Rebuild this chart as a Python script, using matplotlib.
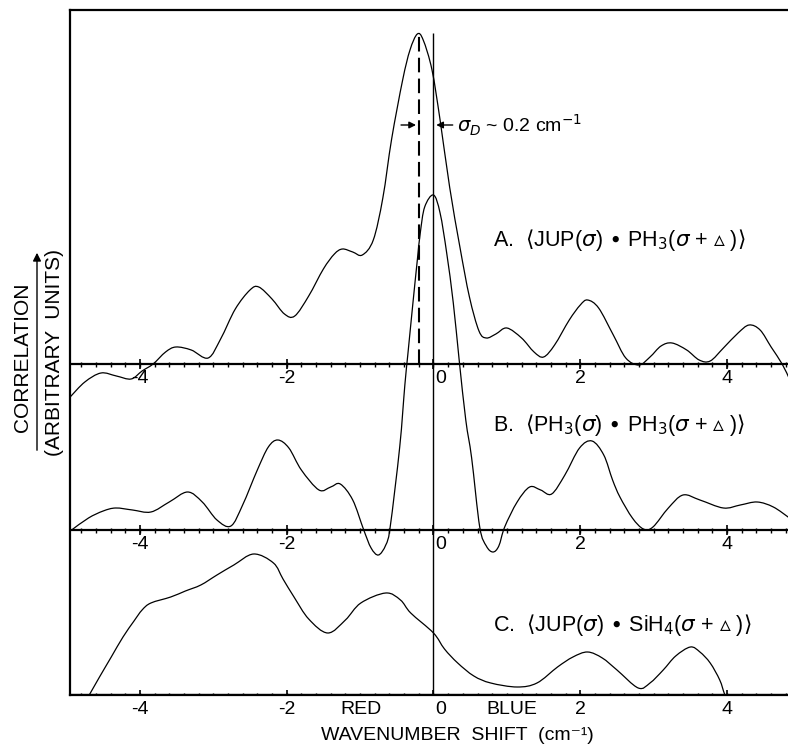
import numpy as np
import matplotlib
matplotlib.use("Agg")
import matplotlib.pyplot as plt
from matplotlib.path import Path
from matplotlib.patches import PathPatch, FancyArrowPatch

plt.rcParams['font.family'] = ['Liberation Sans', 'DejaVu Sans']
plt.rcParams['mathtext.fontset'] = 'dejavusans'

# curve A: JUP x PH3 (shift, height above its baseline)
a_x = [-4.95, -4.75, -4.53, -4.32, -4.12, -3.97, -3.82, -3.65, -3.51, -3.30, -3.07,
       -2.90, -2.70, -2.50, -2.38, -2.20, -2.03, -1.89, -1.70, -1.50, -1.35, -1.24,
       -1.10, -0.97, -0.82, -0.69, -0.57, -0.42, -0.32, -0.22, -0.14, -0.02,
       0.09, 0.22, 0.36, 0.49, 0.62, 0.72, 0.85, 1.00, 1.20, 1.37, 1.50, 1.65, 1.85,
       2.00, 2.10, 2.25, 2.45, 2.62, 2.80, 2.95, 3.10, 3.25, 3.45, 3.62, 3.77, 3.95,
       4.15, 4.30, 4.45, 4.60, 4.75, 4.85]
a_y = [-3.3, -1.8, -0.9, -1.2, -1.5, -0.7, 0.0, 1.2, 1.7, 1.4, 0.6,
       2.5, 5.5, 7.4, 7.7, 6.5, 5.0, 4.8, 6.8, 9.5, 11.0, 11.5,
       11.2, 10.9, 12.4, 16.6, 22.5, 28.4, 31.4, 33.0, 32.4, 29.4,
       24.4, 17.7, 11.7, 6.7, 3.3, 2.6, 3.0, 3.6, 2.6, 1.2, 0.7, 1.9, 4.4,
       5.9, 6.4, 5.6, 2.9, 0.6, -0.1, 0.7, 1.8, 2.1, 1.4, 0.4, 0.3, 1.6,
       3.1, 3.9, 3.4, 1.7, 0.0, -1.5]

# curve B: PH3 x PH3
b_x = [-4.93, -4.70, -4.50, -4.33, -4.10, -3.85, -3.60, -3.35, -3.15, -2.95, -2.76,
       -2.60, -2.40, -2.25, -2.12, -1.97, -1.80, -1.56, -1.40, -1.27, -1.10, -0.95,
       -0.85, -0.75, -0.65, -0.59, -0.46, -0.39, -0.35, -0.28, -0.22, -0.18, -0.12,
       0.0, 0.09, 0.18, 0.27, 0.35, 0.44, 0.52, 0.63, 0.72, 0.81, 0.89, 0.97, 1.14,
       1.31, 1.46, 1.61, 1.79, 1.99, 2.16, 2.32, 2.44, 2.54, 2.71, 2.86, 2.99, 3.20,
       3.40, 3.63, 3.95, 4.18, 4.41, 4.63, 4.85]
b_y = [0.0, 1.2, 1.9, 2.2, 2.0, 1.8, 2.8, 3.8, 2.8, 1.0, 0.4,
       2.5, 6.0, 8.3, 9.0, 8.2, 6.0, 4.0, 4.3, 4.6, 3.0, 0.0,
       -1.8, -2.5, -1.5, 0.3, 8.3, 14.5, 17.5, 22.7, 27.0, 29.7, 32.3,
       33.5, 31.7, 27.7, 22.7, 17.0, 11.0, 7.2, 0.3, -1.6, -2.2, -1.6, 0.3, 2.8,
       4.3, 4.0, 3.6, 5.5, 8.2, 8.9, 7.5, 5.0, 3.3, 1.2, 0.1, 0.3, 2.2,
       3.5, 3.0, 2.2, 2.5, 2.8, 2.3, 1.2]

# curve C: JUP x SiH4
c_x = [-4.85, -4.69, -4.55, -4.39, -4.23, -4.08, -3.97, -3.85, -3.58, -3.38, -3.17, -2.95,
       -2.72, -2.45, -2.18, -2.05, -1.90, -1.70, -1.44, -1.20, -0.99, -0.65, -0.45,
       -0.31, 0.0, 0.15, 0.33, 0.55, 0.78, 1.14, 1.41, 1.69, 1.90, 2.10, 2.30, 2.50,
       2.79, 2.95, 3.13, 3.30, 3.50, 3.63, 3.77, 3.90, 3.97, 4.08]
c_y = [-2.0, 0.0, 1.8, 3.8, 5.8, 7.4, 8.5, 9.2, 9.8, 10.4, 11.0, 12.0,
       13.0, 14.1, 13.2, 11.6, 9.8, 7.6, 6.2, 7.5, 9.2, 10.2, 9.5,
       8.2, 6.2, 4.6, 3.2, 1.9, 1.2, 0.8, 1.2, 2.8, 3.8, 4.3, 3.7, 2.5,
       0.7, 1.2, 2.5, 3.9, 4.8, 4.3, 3.2, 1.5, 0.0, -2.0]

offsets = [33.1, 16.5, 0.0]
labels = [r"A.  $\langle$JUP($\sigma$) $\bullet$ PH$_3$($\sigma$ + $\vartriangle$ )$\rangle$",
          r"B.  $\langle$PH$_3$($\sigma$) $\bullet$ PH$_3$($\sigma$ + $\vartriangle$ )$\rangle$",
          r"C.  $\langle$JUP($\sigma$) $\bullet$ SiH$_4$($\sigma$ + $\vartriangle$ )$\rangle$"]
label_y = [45.5, 27.0, 7.0]
tick_labels = [-4, -2, 0, 2, 4]


def smooth_path(xs, ys):
    # cubic bezier segments through the read points (Catmull-Rom tangents)
    p = np.column_stack([xs, ys])
    ext = np.vstack([p[0], p, p[-1]])
    verts = [p[0]]
    codes = [Path.MOVETO]
    for i in range(1, len(ext) - 2):
        c1 = ext[i] + (ext[i + 1] - ext[i - 1]) / 6
        c2 = ext[i + 1] - (ext[i + 2] - ext[i]) / 6
        verts += [c1, c2, ext[i + 1]]
        codes += [Path.CURVE4] * 3
    return Path(verts, codes)


fig = plt.figure(figsize=(7.88, 7.46), dpi=100)
ax = fig.add_axes([70/788, 51/746, 718/788, 685/746])
ax.set_xlim(-4.952, 4.83)
ax.set_ylim(0, 68.5)
ax.set_xticks([])
ax.set_yticks([])
ax.spines['right'].set_visible(False)
for s in ['left', 'top', 'bottom']:
    ax.spines[s].set_linewidth(1.6)

for (xs, ys), off in zip([(a_x, a_y), (b_x, b_y), (c_x, c_y)], offsets):
    path = smooth_path(xs, np.array(ys) + off)
    ax.add_patch(PathPatch(path, facecolor='none', edgecolor='black', lw=0.9))

# baselines with ticks
minor = np.round(np.arange(-4.8, 4.81, 0.2), 1)
for off in offsets:
    ax.axhline(off, color='black', lw=1.6)
    ax.vlines(minor, off - 0.25, off + 0.25, color='black', lw=1.0)
    ax.vlines(tick_labels, off - 0.5, off + 0.5, color='black', lw=1.2)
    for v in tick_labels:
        if v == 0:
            ax.text(0.03, off - 0.6, "0", ha='left', va='top', fontsize=14)
        else:
            ax.text(v, off - 0.6, str(v), ha='center', va='top', fontsize=14)

for lab, ly in zip(labels, label_y):
    ax.text(0.81, ly, lab, ha='left', va='center', fontsize=15.5)

# zero line and peak offset
ax.vlines(0, 0, 66.2, color='black', lw=1.0)
ax.plot([-0.2, -0.2], [offsets[0], 66.1], color='black', lw=1.5, dashes=(7, 3))
ax.annotate("", xy=(-0.2, 57.0), xytext=(-0.48, 57.0),
            arrowprops=dict(arrowstyle='-|>', color='black', lw=1.0, mutation_scale=10))
ax.annotate("", xy=(0.0, 57.0), xytext=(0.3, 57.0),
            arrowprops=dict(arrowstyle='-|>', color='black', lw=1.0, mutation_scale=10))
ax.text(0.32, 57.0, r"$\sigma_D$ ~ 0.2 cm$^{-1}$", ha='left', va='center', fontsize=14)

ax.text(-0.99, -0.6, "RED", ha='center', va='top', fontsize=14)
ax.text(1.07, -0.6, "BLUE", ha='center', va='top', fontsize=14)
ax.text(0.32, -4.5, "WAVENUMBER  SHIFT  (cm⁻¹)", ha='center', va='baseline',
        fontsize=14, clip_on=False)

# y label
fig.text(23/788, 1 - 357/746, "CORRELATION", rotation=90, ha='center', va='center', fontsize=15)
fig.text(55/788, 1 - 353/746, "(ARBITRARY  UNITS)", rotation=90, ha='center', va='center',
         fontsize=15)
fig.add_artist(FancyArrowPatch((37/788, 1 - 453/746), (37/788, 1 - 250/746),
               transform=fig.transFigure, arrowstyle='-|>', mutation_scale=12,
               color='black', lw=1.0))

fig.savefig("out.png", dpi=100)
